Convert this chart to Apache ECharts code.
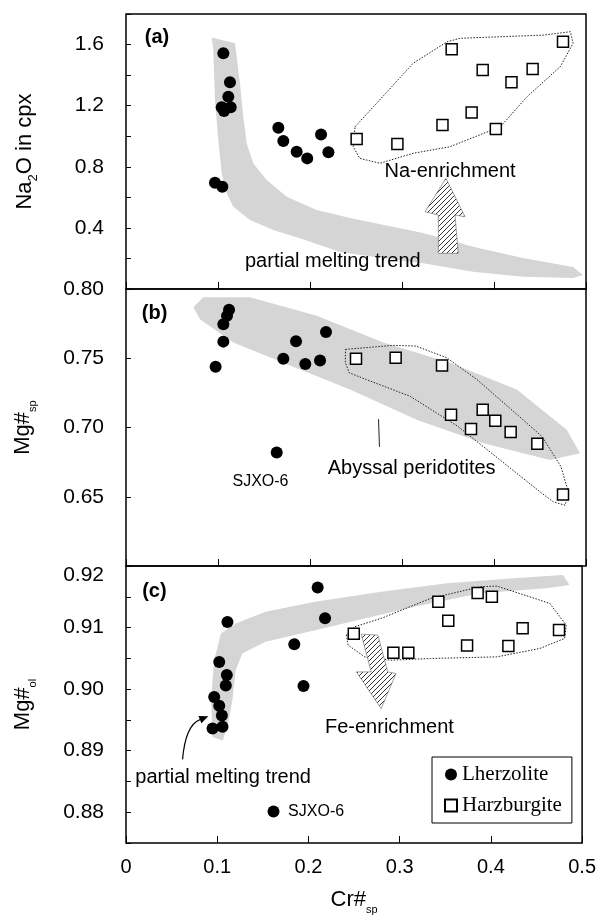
<!DOCTYPE html>
<html>
<head>
<meta charset="utf-8">
<script src="https://cdn.jsdelivr.net/npm/echarts@6/dist/echarts.min.js"></script>
<style>
  html, body { margin: 0; padding: 0; background: #fff; }
  #chart { width: 599px; height: 916px; }
</style>
</head>
<body>
<div id="chart"></div>
<script>
// 数据 (a) Na2O in cpx vs Cr#sp
var lherzA = [[0.1058,1.543],[0.113,1.353],[0.1112,1.259],[0.104,1.189],[0.1065,1.165],[0.1138,1.189],
    [0.0967,0.696],[0.1047,0.670],[0.1656,1.056],[0.171,0.969],[0.1855,0.899],[0.197,0.855],[0.212,1.012],[0.220,0.895]];
var harzA = [[0.2507,0.982],[0.295,0.949],[0.344,1.073],[0.354,1.569],[0.3757,1.156],[0.3877,1.433],
    [0.402,1.047],[0.419,1.353],[0.442,1.440],[0.475,1.618]];
var envelopeA = [[0.249,1.062],[0.269,1.193],[0.312,1.477],[0.349,1.618],[0.363,1.641],[0.454,1.662],[0.483,1.684],
    [0.486,1.608],[0.472,1.455],[0.436,1.259],[0.407,1.062],[0.352,0.931],[0.312,0.888],[0.276,0.823],[0.254,0.855],
    [0.247,0.931],[0.249,1.062]];
var bandA = [[0.0932,1.647],[0.1185,1.608],[0.1239,1.346],[0.1275,1.128],[0.1312,0.954],[0.1384,0.822],[0.1529,0.713],
    [0.1747,0.604],[0.2073,0.517],[0.2435,0.465],[0.3228,0.366],[0.3772,0.277],[0.4315,0.203],[0.4859,0.144],[0.4967,0.092],
    [0.4859,0.072],[0.4315,0.080],[0.3772,0.113],[0.3228,0.168],[0.2685,0.211],[0.2326,0.242],[0.1891,0.332],[0.1601,0.386],
    [0.1348,0.452],[0.1166,0.539],[0.1095,0.626],[0.1040,0.757],[0.1003,0.975],[0.0967,1.237],[0.0949,1.564]];
var arrowA = [[0.3395,0.2336],[0.3612,0.2336],[0.3576,0.4843],[0.3685,0.4732],[0.3478,0.7245],[0.325,0.5059],[0.3395,0.4843]];
var textA = [[0.0337,1.649,'(a)'],[0.3522,0.768,'Na-enrichment'],[0.2248,0.179,'partial melting trend']];

// (b) Mg#sp vs Cr#sp
var lherzB = [[0.112,0.785],[0.1098,0.7806],[0.1058,0.7746],[0.1058,0.762],[0.0974,0.7439],[0.171,0.7497],
    [0.1848,0.7622],[0.1949,0.7458],[0.2109,0.7484],[0.2174,0.769],[0.1638,0.682]];
var harzB = [[0.25,0.7497],[0.2931,0.7504],[0.3435,0.7448],[0.3533,0.7092],[0.375,0.699],[0.3877,0.7129],
    [0.4014,0.7049],[0.4181,0.6967],[0.4471,0.6882],[0.475,0.6516]];
var envelopeB = [[0.2385,0.7564],[0.2902,0.7593],[0.3152,0.7588],[0.3485,0.7504],[0.3815,0.7346],[0.4148,0.7153],
    [0.4522,0.6935],[0.4728,0.6717],[0.4812,0.6524],[0.4772,0.6439],[0.4646,0.6463],[0.4522,0.6524],[0.4022,0.6789],
    [0.3609,0.7007],[0.3318,0.7129],[0.309,0.7225],[0.2613,0.7346],[0.2426,0.7395],[0.2385,0.7468],[0.2385,0.7564]];
var bandB = [[0.0732,0.7869],[0.084,0.794],[0.1348,0.794],[0.2073,0.7806],[0.2797,0.7613],[0.3522,0.7468],
    [0.4247,0.7274],[0.479,0.6983],[0.4935,0.6814],[0.4609,0.6765],[0.3884,0.6887],[0.316,0.7056],[0.2435,0.7274],
    [0.171,0.7468],[0.1166,0.7613],[0.0804,0.7782]];
var leaderB = [[0.2745,0.706],[0.2755,0.686]];
var textB = [[0.0311,0.7826,'(b)'],[0.3105,0.6705,'Abyssal peridotites'],[0.1462,0.6608,'SJXO-6']];

// (c) Mg#ol vs Cr#sp
var lherzC = [[0.2101,0.9165],[0.2182,0.9115],[0.1112,0.9109],[0.1845,0.9073],[0.1022,0.9044],[0.1105,0.9023],
    [0.1094,0.9006],[0.1946,0.9005],[0.0967,0.8987],[0.1022,0.8973],[0.1051,0.8957],[0.1058,0.8939],[0.0949,0.8936],
    [0.1617,0.8801]];
var harzC = [[0.2497,0.9090],[0.2931,0.9059],[0.3095,0.9059],[0.3424,0.9142],[0.3533,0.9111],[0.3739,0.9071],
    [0.3855,0.9156],[0.4011,0.9150],[0.4192,0.9070],[0.4348,0.9099],[0.4747,0.9096]];
var envelopeC = [[0.2416,0.90877],[0.2508,0.91012],[0.2797,0.91149],[0.334,0.91474],[0.3884,0.91663],[0.4065,0.91674],
    [0.4645,0.91393],[0.4826,0.9104],[0.4808,0.90823],[0.4536,0.9066],[0.4065,0.90524],[0.334,0.90497],[0.2905,0.9047],
    [0.2616,0.90524],[0.2435,0.90714],[0.2416,0.90877]];
var bandC = [[0.0949,0.89221],[0.0932,0.89819],[0.0967,0.9047],[0.104,0.90904],[0.1203,0.91067],[0.1529,0.91256],
    [0.2073,0.91419],[0.2797,0.91582],[0.3522,0.91718],[0.4247,0.918],[0.479,0.91853],[0.4862,0.91691],[0.4609,0.91637],
    [0.3884,0.91556],[0.316,0.91337],[0.2616,0.91149],[0.2073,0.90958],[0.1529,0.90768],[0.1275,0.90579],[0.1203,0.90307],
    [0.1166,0.89819],[0.1112,0.89385],[0.1058,0.89167]];
var arrowC = [[0.2579,0.90893],[0.2761,0.90877],[0.287,0.9028],[0.296,0.90253],[0.2797,0.89684],[0.2525,0.9028],[0.2688,0.9028]];
var curveC = [[0.062,0.88858],[0.0652,0.89412],[0.0902,0.89558]];  // tail, control, tip
var textC = [[0.0311,0.91593,'(c)'],[0.2888,0.89384,'Fe-enrichment'],[0.1065,0.8857,'partial melting trend'],[0.2084,0.88012,'SJXO-6']];

var xTicks = ['0', '0.1', '0.2', '0.3', '0.4', '0.5'];

var chart = echarts.init(document.getElementById('chart'));

// 斜线填充
var hatch = document.createElement('canvas');
hatch.width = 5; hatch.height = 5;
(function () {
    var ctx = hatch.getContext('2d');
    ctx.fillStyle = '#fff';
    ctx.fillRect(0, 0, 5, 5);
    ctx.strokeStyle = '#333';
    ctx.lineWidth = 1;
    ctx.beginPath();
    ctx.moveTo(-1, 6); ctx.lineTo(6, -1);
    ctx.moveTo(-1, 1); ctx.lineTo(1, -1);
    ctx.moveTo(4, 6); ctx.lineTo(6, 4);
    ctx.stroke();
})();

var FONT = 'Liberation Sans, Arial, sans-serif';

function polygonSeries(idx, pts, style, z) {
    return {
        type: 'custom', xAxisIndex: idx, yAxisIndex: idx, z: z, silent: true,
        data: [pts[0]],
        renderItem: function (params, api) {
            return {
                type: 'polygon',
                shape: { points: pts.map(function (p) { return api.coord(p); }) },
                style: style
            };
        }
    };
}

function lineSeries(idx, pts, dotted) {
    return {
        type: 'line', xAxisIndex: idx, yAxisIndex: idx, z: 3, silent: true,
        data: pts, symbol: 'none', animation: false,
        lineStyle: { color: '#222', width: 1, type: dotted ? [1.5, 1.5] : 'solid', opacity: 1 }
    };
}

function textSeries(idx, items) {
    return {
        type: 'custom', xAxisIndex: idx, yAxisIndex: idx, z: 6, silent: true,
        data: items.map(function (t) { return [t[0], t[1]]; }),
        renderItem: function (params, api) {
            var t = items[params.dataIndex];
            var p = api.coord([t[0], t[1]]);
            var isPanel = t[2].charAt(0) === '(';
            var small = t[2] === 'SJXO-6';
            return {
                type: 'text', x: p[0], y: p[1],
                style: {
                    text: t[2], fill: '#000', align: 'center', verticalAlign: 'middle',
                    fontFamily: FONT, fontSize: small ? 16 : 20, fontWeight: isPanel ? 'bold' : 'normal'
                }
            };
        }
    };
}

function scatterPair(idx, lh, hz) {
    return [{
        name: 'Lherzolite', type: 'scatter', xAxisIndex: idx, yAxisIndex: idx, z: 5,
        symbol: 'circle', symbolSize: 12, data: lh,
        itemStyle: { color: '#000', opacity: 1 }
    }, {
        name: 'Harzburgite', type: 'scatter', xAxisIndex: idx, yAxisIndex: idx, z: 5,
        symbol: 'rect', symbolSize: 11, data: hz,
        itemStyle: { color: '#fff', borderColor: '#000', borderWidth: 1.5, opacity: 1 }
    }];
}

function xAxisOpt(idx, showLabel) {
    var o = {
        type: 'value', gridIndex: idx, min: 0, max: 0.5, interval: 0.1,
        axisLine: { show: false },
        axisTick: { show: true, inside: true, length: 7, lineStyle: { color: '#000', width: 1 } },
        splitLine: { show: false },
        axisLabel: {
            show: showLabel, color: '#000', fontSize: 20, fontFamily: FONT, margin: 14,
            formatter: function (v) { return xTicks[Math.round(v * 10)]; }
        }
    };
    if (showLabel) {
        o.name = '{n|Cr#}{s|sp}';
        o.nameLocation = 'middle';
        o.nameGap = 42;
        o.nameTextStyle = {
            color: '#000', fontFamily: FONT, fontSize: 22,
            rich: {
                n: { fontSize: 22, fontFamily: FONT, color: '#000', lineHeight: 30, verticalAlign: 'middle' },
                s: { fontSize: 11, fontFamily: FONT, color: '#000', lineHeight: 11, verticalAlign: 'bottom' }
            }
        };
    }
    return o;
}

function yAxisOpt(idx, min, max, interval, formatter, name, gap, subSize) {
    return {
        type: 'value', gridIndex: idx, min: min, max: max, interval: interval,
        axisLine: { show: false },
        axisTick: { show: true, inside: true, length: 5, lineStyle: { color: '#000', width: 1 } },
        splitLine: { show: false },
        axisLabel: {
            color: '#000', fontSize: 21, fontFamily: FONT, margin: 22, formatter: formatter,
            rich: { t: { fontSize: 21, fontFamily: FONT, color: '#000', padding: [18, 0, 0, 0] } }
        },
        name: name, nameLocation: 'middle', nameRotate: 90, nameGap: gap,
        nameTextStyle: {
            color: '#000', fontFamily: FONT, fontSize: 22,
            rich: {
                n: { fontSize: 22, fontFamily: FONT, color: '#000', lineHeight: 30, verticalAlign: 'middle' },
                s: { fontSize: subSize, fontFamily: FONT, color: '#000', lineHeight: subSize, verticalAlign: 'bottom' }
            }
        }
    };
}

var bandStyle = { fill: '#d5d5d5', stroke: 'none' };
var arrowStyle = { fill: { image: hatch, repeat: 'repeat' }, stroke: '#666', lineWidth: 0.6 };

var option = {
    animation: false,
    backgroundColor: '#fff',
    grid: [
        { left: 126, width: 460, top: 14, height: 275, show: true, borderColor: '#000', borderWidth: 1.5 },
        { left: 126, width: 460, top: 289, height: 277, show: true, borderColor: '#000', borderWidth: 1.5 },
        { left: 126, width: 460, top: 566, height: 277, show: true, borderColor: '#000', borderWidth: 1.5 }
    ],
    legend: {
        data: ['Lherzolite', 'Harzburgite'],
        orient: 'vertical', left: 432, top: 757,
        selectedMode: false,
        borderColor: '#000', borderWidth: 1, padding: [7, 10, 7, 12],
        itemWidth: 12, itemHeight: 12, itemGap: 10,
        textStyle: { fontFamily: 'Liberation Serif, Times New Roman, serif', fontSize: 21, color: '#000' }
    },
    xAxis: [xAxisOpt(0, false), xAxisOpt(1, false), xAxisOpt(2, true)],
    yAxis: [
        yAxisOpt(0, 0, 1.8, 0.2, function (v) {
            var k = Math.round(v * 10);
            return (k % 4 === 0 && k > 0 && k < 18) ? (k / 10).toFixed(1) : '';
        }, '{n|Na}{s|2}{n|O in cpx}', 86, 13),
        yAxisOpt(1, 0.6, 0.8, 0.05, function (v) {
            var k = Math.round(v * 100);
            return (k > 60 && k % 5 === 0) ? (k / 100).toFixed(2) : '';
        }, '{n|Mg#}{s|sp}', 88, 11),
        yAxisOpt(2, 0.875, 0.92, 0.005, function (v) {
            var k = Math.round(v * 1000);
            if (k % 10 !== 0) return '';
            var s = (k / 1000).toFixed(2);
            return k === 920 ? '{t|' + s + '}' : s;
        }, '{n|Mg#}{s|ol}', 88, 11)
    ],
    series: [].concat(
        // (a)
        [polygonSeries(0, bandA, bandStyle, 1),
         lineSeries(0, envelopeA, true),
         polygonSeries(0, arrowA, arrowStyle, 4),
         textSeries(0, textA)],
        scatterPair(0, lherzA, harzA),
        // (b)
        [polygonSeries(1, bandB, bandStyle, 1),
         lineSeries(1, envelopeB, true),
         lineSeries(1, leaderB, false),
         textSeries(1, textB)],
        scatterPair(1, lherzB, harzB),
        // (c)
        [polygonSeries(2, bandC, bandStyle, 1),
         lineSeries(2, envelopeC, true),
         polygonSeries(2, arrowC, arrowStyle, 4),
         {
             type: 'custom', xAxisIndex: 2, yAxisIndex: 2, z: 4, silent: true,
             data: [curveC[2]],
             renderItem: function (params, api) {
                 var a = api.coord(curveC[0]), c = api.coord(curveC[1]), b = api.coord(curveC[2]);
                 var dx = b[0] - c[0], dy = b[1] - c[1], len = Math.sqrt(dx * dx + dy * dy);
                 var ux = dx / len, uy = dy / len, hl = 9, hw = 4;
                 var bx = b[0] - ux * hl, by = b[1] - uy * hl;
                 return {
                     type: 'group',
                     children: [{
                         type: 'bezierCurve',
                         shape: { x1: a[0], y1: a[1], x2: bx, y2: by, cpx1: c[0], cpy1: c[1] },
                         style: { stroke: '#000', lineWidth: 1.2, fill: 'none' }
                     }, {
                         type: 'polygon',
                         shape: { points: [b, [bx - uy * hw, by + ux * hw], [bx + uy * hw, by - ux * hw]] },
                         style: { fill: '#000' }
                     }]
                 };
             }
         },
         textSeries(2, textC)],
        scatterPair(2, lherzC, harzC)
    )
};

chart.setOption(option);
</script>
</body>
</html>
